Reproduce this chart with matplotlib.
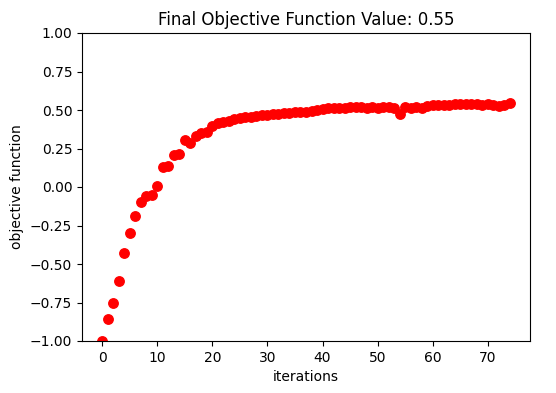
import numpy as np
import matplotlib
matplotlib.use("Agg")
import matplotlib.pyplot as plt

# objective value at every iteration
objective = [
    -1.00, -0.857, -0.755, -0.61, -0.427, -0.297, -0.187, -0.098, -0.061, -0.052,
    0.009, 0.132, 0.137, 0.208, 0.213, 0.306, 0.284, 0.332, 0.349, 0.358,
    0.397, 0.416, 0.425, 0.43, 0.44, 0.445, 0.455, 0.455, 0.46, 0.465,
    0.47, 0.475, 0.475, 0.48, 0.48, 0.485, 0.49, 0.49, 0.495, 0.50,
    0.505, 0.51, 0.51, 0.515, 0.515, 0.52, 0.52, 0.52, 0.515, 0.52,
    0.515, 0.52, 0.52, 0.51, 0.475, 0.52, 0.51, 0.52, 0.515, 0.525,
    0.53, 0.53, 0.535, 0.535, 0.54, 0.54, 0.54, 0.54, 0.54, 0.535,
    0.54, 0.535, 0.525, 0.535, 0.548,
]
iterations = np.arange(len(objective))

fig = plt.figure(figsize=(5.56, 3.93), dpi=100)
ax = fig.add_axes([82 / 556, 52 / 393, 448 / 556, 308 / 393])
ax.plot(iterations, objective, 'ro', markersize=6.8)
ax.set_ylim(-1, 1)
ax.set_xlabel("iterations")
ax.set_ylabel("objective function")
ax.set_title("Final Objective Function Value: %.2f" % objective[-1])

fig.savefig("out.png", dpi=100)
